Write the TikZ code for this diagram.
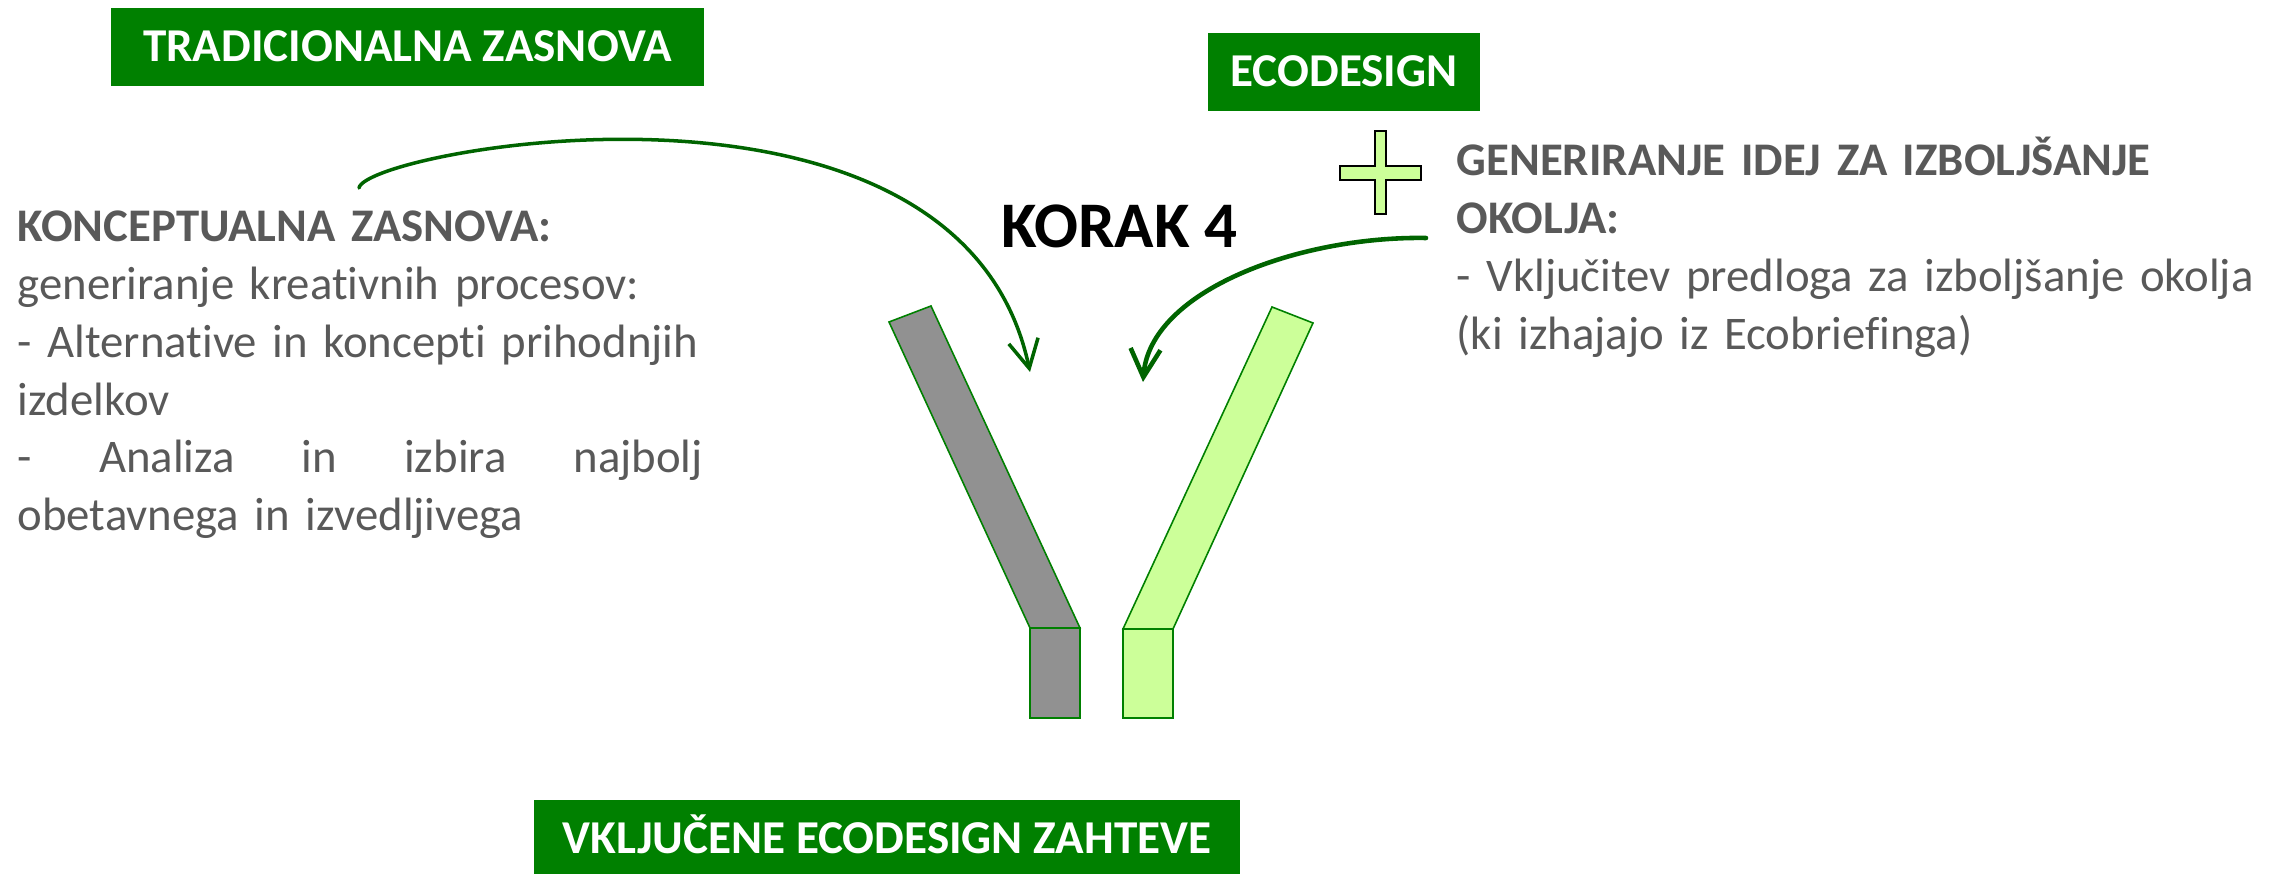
\documentclass[tikz,border=0pt]{standalone}
\usepackage{fontspec}
\setmainfont{Carlito}[Ligatures={NoCommon}]
\usetikzlibrary{arrows.meta}

\definecolor{boxgreen}{RGB}{0,128,0}
\definecolor{arrowgreen}{RGB}{0,100,0}
\definecolor{palegreen}{RGB}{204,255,153}
\definecolor{bargray}{RGB}{145,145,145}
\definecolor{textgray}{RGB}{89,89,89}

\tikzset{
  greenbox/.style={fill=boxgreen, text=white, font=\fontsize{13.4}{16.4}\selectfont\bfseries,
    minimum height=0.78cm, text height=8.5pt, text depth=0pt, inner sep=0pt},
  bodytext/.style={text=textgray, font=\fontsize{13.3}{16.4}\selectfont, inner sep=0pt,
    align=left, anchor=base west},
  bendarrow/.style={arrowgreen, line width=1pt, line cap=round,
    -{Straight Barb[length=8pt,width=8.5pt]}},
  barshape/.style={draw=boxgreen, line width=0.45pt}
}

\begin{document}
\begin{tikzpicture}[x=0.01cm, y=-0.01cm]
  \useasboundingbox (0,0) rectangle (2271,874);

  % headings
  \node[greenbox, minimum width=5.93cm] (trad) at (407.5,47) {TRADICIONALNA ZASNOVA};
  \node[greenbox, minimum width=2.72cm] (eco) at (1344,72) {ECODESIGN};
  \node[greenbox, minimum width=7.06cm] (vklj) at (887,839) {VKLJUČENE ECODESIGN ZAHTEVE};

  \node[anchor=base east, inner sep=0pt, font=\fontsize{18.5}{22}\selectfont\bfseries] (korak) at (1238,248) {KORAK 4};

  % left and right texts
  \node[bodytext, text width=6.85cm] (konc) at (17,242) {\textbf{KONCEPTUALNA ZASNOVA:}\\
    generiranje kreativnih procesov:\\
    - Alternative in koncepti prihodnjih\\
    izdelkov\\
    \leavevmode\hbox to 6.85cm{-\hfill Analiza\hfill in\hfill izbira\hfill najbolj}\\
    obetavnega in izvedljivega};
  \node[bodytext, text width=8.1cm] (gener) at (1456,176) {\textbf{GENERIRANJE IDEJ ZA IZBOLJŠANJE}\\
    \textbf{OKOLJA:}\\
    - Vključitev predloga za izboljšanje okolja\\
    (ki izhajajo iz Ecobriefinga)};

  % plus sign
  \draw[fill=palegreen, line width=0.6pt] (1375,131) -- (1386,131) -- (1386,166) -- (1421,166)
    -- (1421,180) -- (1386,180) -- (1386,214) -- (1375,214) -- (1375,180) -- (1340,180)
    -- (1340,166) -- (1375,166) -- cycle;

  % the two bars
  \draw[barshape, fill=bargray] (889,322) -- (931,306) -- (1080,628) -- (1030,628) -- cycle;
  \draw[barshape, fill=bargray] (1030,628) rectangle (1080,718);
  \draw[barshape, fill=palegreen] (1272,307) -- (1313,323) -- (1173,629) -- (1123,629) -- cycle;
  \draw[barshape, fill=palegreen] (1123,629) rectangle (1173,718);

  % arrows
  \coordinate (kstart) at (359,188);
  \coordinate (kend) at (1030,372);
  \coordinate (estart) at (1426,238);
  \coordinate (eend) at (1143,382);
  \draw[bendarrow] (kstart) .. controls (365,150) and (960,40) .. (kend);
  \draw[bendarrow, line width=1.3pt] (estart) .. controls (1300,236) and (1150,290) .. (eend);
\end{tikzpicture}
\end{document}
